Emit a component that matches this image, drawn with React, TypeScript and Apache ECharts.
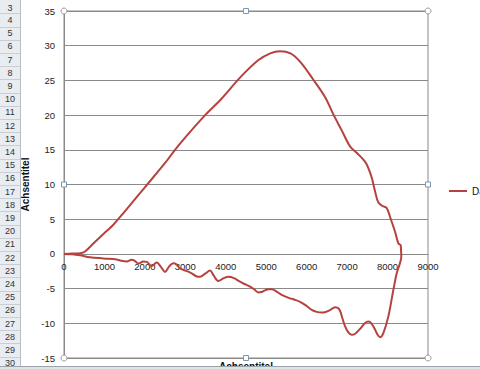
import React, { useEffect, useRef } from "react";
import * as echarts from "echarts";

// Outbound (upper) branch of the loop, left to right
const upperX = [0, 200, 400, 520, 725, 1000, 1220, 1500, 2000, 2500, 2745, 3000, 3490, 3900, 4352, 4800, 5100, 5341, 5600, 5836, 6165, 6454, 6660, 6867, 7072, 7250, 7443, 7530, 7608, 7700, 7773, 7880, 7979, 8080, 8185, 8268, 8325, 8332];
const upperY = [0, 0.05, 0.1, 0.35, 1.5, 3.0, 4.2, 6.1, 9.6, 13.1, 15.0, 16.8, 20.0, 22.4, 25.4, 27.9, 28.9, 29.2, 28.9, 27.7, 25.1, 22.6, 20.1, 17.8, 15.5, 14.5, 13.3, 12.3, 11.0, 8.8, 7.4, 6.9, 6.6, 5.0, 3.2, 1.5, 1.25, 0.6];

// Return (lower) branch of the loop, right to left
const lowerX = [8340, 8226, 8143, 8020, 7896, 7814, 7750, 7690, 7600, 7525, 7440, 7320, 7200, 7114, 7030, 6948, 6880, 6825, 6760, 6701, 6640, 6578, 6450, 6371, 6250, 6124, 6000, 5836, 5700, 5588, 5383, 5250, 5135, 5050, 4970, 4880, 4805, 4700, 4600, 4450, 4352, 4200, 4064, 3950, 3816, 3700, 3610, 3500, 3363, 3281, 3157, 3074, 2868, 2780, 2703, 2600, 2497, 2400, 2292, 2168, 2045, 1962, 1838, 1750, 1674, 1550, 1385, 1302, 972, 643, 396, 200, 0];
const lowerY = [-0.3, -2.8, -5.2, -9.0, -11.4, -12.0, -11.6, -10.9, -10.0, -9.75, -10.0, -10.8, -11.5, -11.65, -11.3, -10.4, -9.2, -8.2, -7.75, -7.7, -7.85, -8.1, -8.4, -8.45, -8.35, -8.05, -7.5, -6.9, -6.6, -6.4, -5.9, -5.4, -5.1, -5.1, -5.25, -5.5, -5.55, -5.1, -4.7, -4.3, -4.0, -3.5, -3.3, -3.5, -3.9, -3.1, -2.4, -2.8, -3.3, -3.25, -2.8, -2.55, -2.1, -1.5, -1.35, -1.8, -2.6, -1.9, -1.25, -1.75, -1.15, -1.1, -1.4, -1.0, -0.86, -1.1, -0.95, -0.8, -0.65, -0.48, -0.2, -0.05, 0];

const xMin = 0;
const xMax = 9000;
const xStep = 1000;
const yMin = -15;
const yMax = 35;
const yStep = 5;
const seriesName = "Datenreihe1";
const axisTitle = "Achsentitel";
const firstRow = 3;
const lastRow = 30;

const FONT = "'Liberation Sans', Arial, sans-serif";

export default function App() {
  const ref = useRef<HTMLDivElement>(null);
  useEffect(() => {
    const chart = echarts.init(ref.current!, null, { renderer: "svg" });
    const data: number[][] = [
      ...upperX.map((x, i) => [x, upperY[i]]),
      ...lowerX.map((x, i) => [x, lowerY[i]]),
    ];
    const G = { left: 64, top: 11, width: 364, height: 347 };
    const gR = G.left + G.width;
    const gB = G.top + G.height;
    const gMx = G.left + G.width / 2;
    const gMy = G.top + G.height / 2;
    // x axis crosses the y axis at value 0: shift it up from the grid bottom
    const xAxisOffset = -G.height * (0 - yMin) / (yMax - yMin);

    const rowH = 13.2;
    const rowCenter0 = 20 - rowH; // center of row 3
    const headerW = 20;
    const rowGraphics: any[] = [
      { type: "rect", shape: { x: 0, y: 0, width: headerW, height: 369 }, style: { fill: "#e9ecf0" }, z: 1 },
      { type: "line", shape: { x1: headerW + 0.5, y1: 0, x2: headerW + 0.5, y2: 369 }, style: { stroke: "#b8bec7", lineWidth: 1 }, z: 2 },
    ];
    for (let r = firstRow; r <= lastRow; r++) {
      const c = rowCenter0 + (r - firstRow) * rowH;
      rowGraphics.push({
        type: "line",
        shape: { x1: 0, y1: Math.round(c + rowH / 2) + 0.5, x2: headerW, y2: Math.round(c + rowH / 2) + 0.5 },
        style: { stroke: "#c9ced6", lineWidth: 1 },
        z: 2,
      });
      rowGraphics.push({
        type: "text",
        x: headerW / 2,
        y: r === firstRow ? 8 : c,
        style: { text: String(r), fill: "#333", font: `9px ${FONT}`, textAlign: "center", textVerticalAlign: "middle" },
        z: 3,
      });
    }

    const handleCircle = (x: number, y: number) => ({
      type: "circle", shape: { cx: x, cy: y, r: 3 }, style: { fill: "#fff", stroke: "#9a9a9a", lineWidth: 1 }, z: 10,
    });
    const handleSquare = (x: number, y: number) => ({
      type: "rect", shape: { x: x - 2.5, y: y - 2.5, width: 5, height: 5 }, style: { fill: "#fff", stroke: "#7f96b2", lineWidth: 1 }, z: 10,
    });

    chart.setOption({
      animation: false,
      backgroundColor: "#fff",
      grid: { ...G, show: true, borderColor: "#8a8a8a", borderWidth: 1, containLabel: false, outerBoundsMode: "none" },
      legend: {
        left: 449,
        top: 186,
        padding: 0,
        icon: "rect",
        itemWidth: 18,
        itemHeight: 2,
        itemGap: 4,
        textStyle: { fontSize: 10, color: "#111", fontFamily: FONT },
        data: [seriesName],
      },
      xAxis: {
        type: "value",
        min: xMin,
        max: xMax,
        interval: xStep,
        position: "bottom",
        offset: xAxisOffset,
        axisLine: { show: true, onZero: false, lineStyle: { color: "#8a8a8a", width: 1 } },
        axisTick: { show: false },
        splitLine: { show: false },
        axisLabel: { margin: 8, fontSize: 9.5, color: "#222", fontFamily: FONT, formatter: (v: number) => String(v) },
      },
      yAxis: {
        type: "value",
        min: yMin,
        max: yMax,
        interval: yStep,
        name: axisTitle,
        nameLocation: "middle",
        nameGap: 27,
        nameRotate: 90,
        nameTextStyle: { fontSize: 10, fontWeight: "bold", color: "#111", fontFamily: FONT },
        axisLine: { show: true, onZero: false, lineStyle: { color: "#8a8a8a", width: 1 } },
        axisTick: { show: false },
        splitLine: { show: true, lineStyle: { color: "#8a8a8a", width: 1 } },
        axisLabel: { margin: 9, fontSize: 9.5, color: "#222", fontFamily: FONT, formatter: (v: number) => String(v) },
      },
      series: [
        {
          name: seriesName,
          type: "line",
          data,
          smooth: 0.35,
          showSymbol: false,
          symbol: "none",
          lineStyle: { color: "#b5423e", width: 2 },
          itemStyle: { color: "#b5423e" },
        },
      ],
      graphic: [
        ...rowGraphics,
        {
          type: "text",
          x: gMx,
          y: 361,
          style: { text: axisTitle, fill: "#111", font: `bold 10px ${FONT}`, textAlign: "center", textVerticalAlign: "top" },
          z: 5,
        },
        { type: "rect", shape: { x: 0, y: 366, width: 480, height: 3 }, style: { fill: "#dfe3e8" }, z: 20 },
        { type: "line", shape: { x1: 0, y1: 366.5, x2: 480, y2: 366.5 }, style: { stroke: "#9da3ab", lineWidth: 1 }, z: 21 },
        handleCircle(G.left, G.top),
        handleCircle(gR, G.top),
        handleCircle(G.left, gB),
        handleCircle(gR, gB),
        handleSquare(gMx, G.top),
        handleSquare(gMx, gB),
        handleSquare(G.left, gMy),
        handleSquare(gR, gMy),
      ],
    });
    return () => chart.dispose();
  }, []);
  return (
    <div
      ref={ref}
      style={{ position: "fixed", left: 0, top: 0, width: 480, height: 369, background: "#fff" }}
    />
  );
}
